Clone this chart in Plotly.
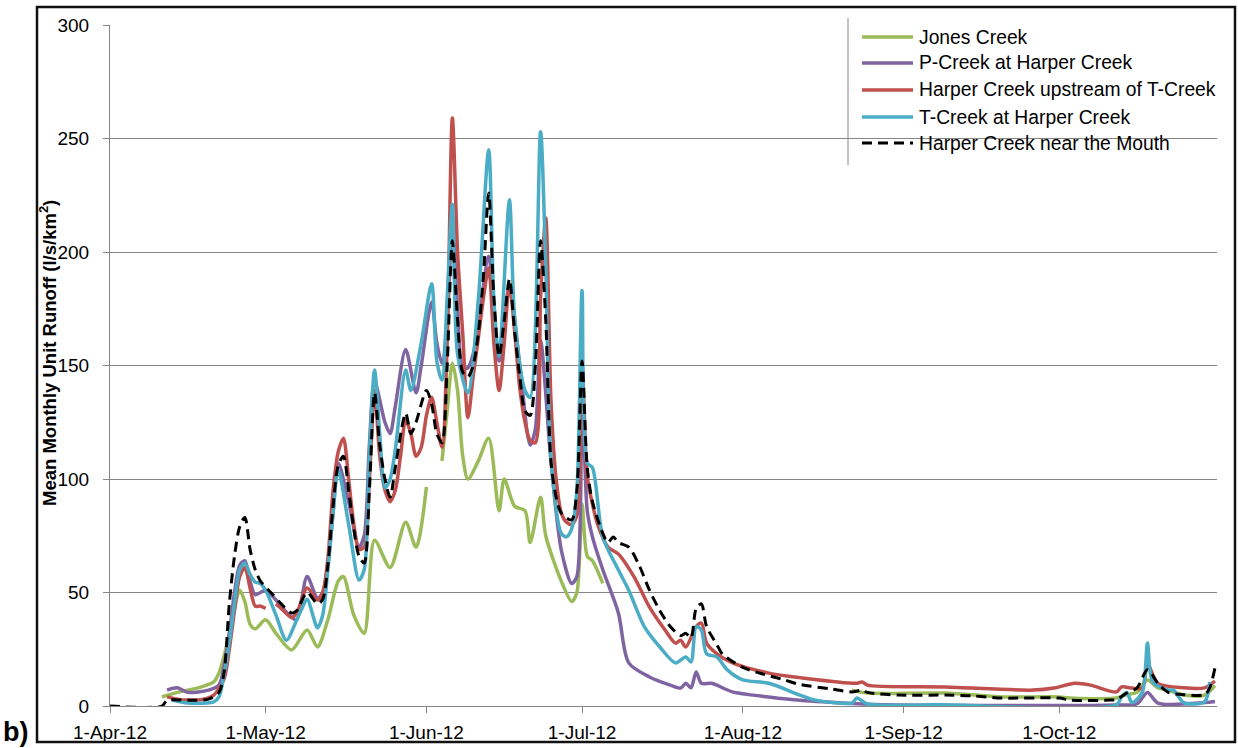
import pandas as pd
import plotly.graph_objects as go

# Daily unit runoff, 2012 freshet. Days are counted from 1-Apr-12.
START = pd.Timestamp("2012-04-01")

jones_day = [10, 13, 17, 20, 21, 22, 23, 24, 25, 26, 27, 28, 30, 32, 35, 38, 40, 42, 44, 45,
             47, 49, 51, 54, 57, 59, 61, 62, 64, 65, 66, 67, 68, 69, 71, 73, 75, 76, 78, 80,
             81, 83, 84, 87, 89, 90, 91, 92, 93, 95, 96, 143, 146, 161, 172, 183, 185, 194,
             196, 198, 200, 202, 204, 207, 211, 213]
jones_val = [4, 6, 8, 10.6, 14.5, 22, 32, 43, 51, 46, 36, 34, 38, 32, 24.7, 33.5, 26, 38, 55, 57,
             40, 32, 73, 61, 81, 70, 96.5, None, 108, 130, 151, 139, 110, 100, 108, 118, 86, 100, 88, 86,
             72, 92, 75, 55, 46, 50, 89, 66, 64, 54, None, 7, 5.7, 5.7, 4, 4, 3.5, 3.5,
             5, 6, 11.5, 8, 7, 4.8, 4.8, 9]

pcreek_day = [11, 13, 15, 19, 21, 22, 23, 24, 25, 26, 27, 28, 30, 32, 35, 36, 38, 40, 41, 42,
              43, 44, 46, 48, 49, 50, 51, 53, 54, 55, 57, 59, 60, 62, 63, 64, 65, 66, 67, 68,
              69, 70, 71, 73, 75, 77, 79, 81, 82, 83, 85, 87, 89, 90, 91, 92, 93, 95, 98, 100,
              104, 108, 110, 111, 112, 113, 114, 116, 120, 127, 133, 144, 150, 194, 198, 200,
              202, 211, 213]
pcreek_val = [7, 8, 6, 7, 9.2, 18, 32, 50, 62, 64, 55, 49, 51, 46.7, 39, 38, 57, 47.5, 50, 62,
              85, 107, 90, 70, 75, 115, 143, 125, 120, 132, 157, 138, 150, 178, 160, 151, 170, 212, 175, 149,
              149, 155, 167, 198, 152, 185, 150, 115, 122, 161, 108, 68.7, 54, 57, 140, 86, 74.5, 60, 41, 19,
              12.8, 9.2, 7.9, 10, 8, 15, 10, 10, 6.2, 4, 2.5, 1, 0.5, 0.4, 1, 6,
              1.3, 1.5, 2]

harper_up_day = [11, 13, 15, 18, 20, 22, 23, 24, 25, 26, 27, 28, 29, 30, 31, 32, 33, 35, 36, 38,
                 40, 41, 42, 43, 44, 45, 46, 47, 48, 49, 50, 51, 52, 53, 54, 55, 56, 57, 58, 59,
                 60, 61, 62, 63, 64, 65, 66, 67, 68, 69, 70, 71, 72, 73, 74, 75, 76, 77, 78, 79,
                 80, 81, 82, 83, 84, 85, 86, 87, 88, 89, 90, 91, 92, 93, 94, 96, 98, 101, 104, 107,
                 109, 110, 111, 113, 114, 115, 117, 120, 127, 133, 144, 145, 146, 161, 178, 182,
                 186, 189, 194, 195, 197, 199, 200, 202, 207, 211, 213]
harper_up_val = [4, 3, 2.6, 3, 4.8, 12, 25, 42, 57, 61, 52, 44, 44, 43, None, 45, 43, 39, 41, 52,
                 46.7, 50, 65, 95, 112, 118, 100, 80, 69, 70, 100, 139, 110, 95, 90, 95, 110, 126, 120, 110,
                 114, 128, 136, 125, 114, 160, 259, 200, 164, 127, 145, 162, 180, 193, 160, 139, 160, 186, 165, 140,
                 125, 117, 116, 180, 215, 135, 100, 85, 81, 80, 84, 150, 101, 89, 80, 70, 67, 57, 43.6, 33.5,
                 27.7, 29, 26, 35, 36.5, 27.7, 23, 19, 14.5, 12.5, 10, 10.6, 9.2, 8.4, 7, 7.9,
                 10, 9.2, 6.2, 8.4, 7.9, 7.9, 18.5, 10, 8, 8, 11]

tcreek_day = [12, 15, 20, 21, 22, 23, 24, 25, 26, 27, 28, 29, 30, 32, 34, 36, 37, 38, 40, 41,
              42, 43, 44, 46, 48, 49, 50, 51, 52, 53, 54, 55, 57, 58, 60, 62, 63, 64, 65, 66,
              67, 69, 71, 73, 74, 75, 77, 78, 80, 81, 83, 84, 85, 87, 88, 89, 90, 91, 92, 93,
              95, 98, 100, 103, 106, 109, 111, 112, 113, 114, 115, 117, 119, 122, 127, 133, 136,
              143, 144, 146, 160, 194, 195, 196, 197, 199, 200, 201, 204, 205, 207, 211, 212]
tcreek_val = [2.6, 1.3, 1.8, 4, 14, 28, 45, 60, 63, 58, 54.6, 54, 51, 40, 29, 38, 43, 47, 34.5, 40,
              60, 85, 104, 80, 55.5, 60, 110, 148, 120, 96, 100, 113, 148, 139, 160, 186, 152, 143.6, 180, 221,
              155, 138, 179, 245, 179, 154, 223, 171, 139, 136, 253, 193, 110, 76, 74.5, 78, 95, 183, 107, 105,
              74.5, 60, 51, 35, 26, 19, 21.6, 19.4, 35, 33.5, 23, 21.6, 15.9, 11.5, 10, 4.8, 2.6,
              1.3, 3.5, 0.9, 0.5, 0.5, 4, 6, 1.5, 6, 27.7, 10.6, 7, 7, 1.5, 1.8, 10.6]

mouth_day = [0, 10, 11, 15, 19, 21, 22, 23, 24, 25, 26, 27, 28, 29, 31, 33, 35, 36, 38, 40,
             41, 42, 43, 44, 45, 46, 47, 48, 49, 50, 51, 52, 53, 54, 55, 57, 58, 59, 61, 62,
             63, 64, 65, 66, 67, 68, 69, 70, 71, 72, 73, 74, 75, 76, 77, 78, 79, 80, 81, 82,
             83, 84, 85, 86, 87, 89, 90, 91, 92, 93, 95, 96, 97, 98, 100, 102, 104, 106, 108,
             110, 111, 112, 113, 114, 115, 117, 118, 122, 126, 130, 133, 139, 143, 145, 146,
             152, 161, 166, 172, 183, 185, 193, 194, 196, 198, 200, 202, 204, 207, 211, 212, 213]
mouth_val = [0, 0, 2.5, 2.5, 3, 6, 15, 45, 66, 79, 83, 69, 60, 55, 50, 45, 41, 42, 50, 45,
             47, 62, 88, 106, 110, 95, 78, 66, 63, 95, 138, 115, 100, 92, 105, 129, 120, 125, 139, 133,
             120, 116, 150, 205, 170, 147, 145, 150, 164, 190, 226, 180, 154, 170, 188, 165, 145, 130, 128, 150,
             205, 170, 108, 92, 85, 82, 95, 152, 105, 90, 76, 72, 74.5, 72, 70, 62, 51, 42, 35,
             31, 32, 30, 43, 45, 35, 27, 23, 17, 14, 11.5, 9.5, 7.5, 6.2, 7, 6,
             4.8, 4.8, 4.5, 3.5, 3.5, 2.6, 2.6, 2.8, 5.7, 8, 16, 10, 6, 5, 5, 8, 16.7]

series = [
    ("Jones Creek", jones_day, jones_val, "#9BBB59", "solid", 3.5),
    ("P-Creek at Harper Creek", pcreek_day, pcreek_val, "#8064A2", "solid", 3.5),
    ("Harper Creek upstream of T-Creek", harper_up_day, harper_up_val, "#C0504D", "solid", 3.5),
    ("T-Creek at Harper Creek", tcreek_day, tcreek_val, "#4BACC6", "solid", 3.5),
    ("Harper Creek near the Mouth", mouth_day, mouth_val, "#000000", "10px,6px", 3),
]

y_ticks = [0, 50, 100, 150, 200, 250, 300]
x_tick_dates = ["2012-04-01", "2012-05-01", "2012-06-01", "2012-07-01",
                "2012-08-01", "2012-09-01", "2012-10-01"]
x_tick_labels = ["1-Apr-12", "1-May-12", "1-Jun-12", "1-Jul-12",
                 "1-Aug-12", "1-Sep-12", "1-Oct-12"]

W, H = 1238, 748
ML, MR, MT, MB = 110, 21, 25, 42
PW, PH = W - ML - MR, H - MT - MB


def px(x):
    return (x - ML) / PW


def py(y):
    return (H - MB - y) / PH


FONT = "Liberation Sans, Arial, sans-serif"

fig = go.Figure()
for name, days, vals, color, dash, width in series:
    fig.add_trace(go.Scatter(
        x=[START + pd.Timedelta(days=d) for d in days],
        y=vals,
        name=name,
        mode="lines",
        line=dict(color=color, width=width, dash=dash, shape="spline", smoothing=0.8),
        connectgaps=False,
        showlegend=False,
    ))

shapes = []
annotations = []

# outer chart frame
shapes.append(dict(type="rect", xref="paper", yref="paper",
                   x0=px(37), x1=px(1235), y0=py(742), y1=py(7),
                   line=dict(color="#111111", width=2.5), layer="above"))

# legend panel
legend_left = 848
shapes.append(dict(type="rect", xref="paper", yref="paper",
                   x0=px(legend_left), x1=px(1233), y0=py(165), y1=py(18),
                   fillcolor="white", line=dict(width=0), layer="below"))
shapes.append(dict(type="line", xref="paper", yref="paper",
                   x0=px(legend_left), x1=px(legend_left), y0=py(165), y1=py(18),
                   line=dict(color="#868686", width=1)))
row_y = [37, 63, 90, 117, 143]
for (name, _, _, color, dash, width), ry in zip(series, row_y):
    shapes.append(dict(type="line", xref="paper", yref="paper",
                       x0=px(862), x1=px(913), y0=py(ry), y1=py(ry),
                       line=dict(color=color, width=width, dash=dash)))
    annotations.append(dict(text=name, xref="paper", yref="paper",
                            x=px(917), y=py(ry), xanchor="left", yanchor="middle",
                            showarrow=False, font=dict(family=FONT, size=19.3, color="#000000")))

annotations.append(dict(text="<b>Mean Monthly Unit Runoff (l/s/km<sup>2</sup>)</b>",
                        xref="paper", yref="paper", x=px(48), y=py(353),
                        xanchor="center", yanchor="middle", textangle=-90, showarrow=False,
                        font=dict(family=FONT, size=18.5, color="#000000")))
annotations.append(dict(text="<b>b)</b>", xref="paper", yref="paper",
                        x=px(1), y=py(749), xanchor="left", yanchor="bottom",
                        showarrow=False, font=dict(family=FONT, size=27, color="#000000")))

fig.update_layout(
    width=W, height=H,
    margin=dict(l=ML, r=MR, t=MT, b=MB, pad=0, autoexpand=False),
    paper_bgcolor="white", plot_bgcolor="white",
    shapes=shapes, annotations=annotations,
    showlegend=False,
    font=dict(family=FONT, size=19, color="#000000"),
)
fig.update_xaxes(
    type="date", automargin=False,
    range=[START, pd.Timestamp("2012-10-31 09:36")],
    tickvals=x_tick_dates, ticktext=x_tick_labels,
    ticks="outside", ticklen=6, tickcolor="#868686", tickwidth=1,
    showline=True, linecolor="#868686", linewidth=1,
    showgrid=False, zeroline=False,
    ticklabelstandoff=3,
    tickfont=dict(family=FONT, size=19, color="#000000"),
)
fig.update_yaxes(
    range=[0, 300], tickvals=y_ticks, automargin=False,
    ticks="outside", ticklen=6, tickcolor="#868686", tickwidth=1,
    showline=True, linecolor="#868686", linewidth=1,
    showgrid=True, gridcolor="#868686", gridwidth=1, zeroline=False,
    ticklabelstandoff=10,
    tickfont=dict(family=FONT, size=19, color="#000000"),
)

fig.write_html("out.html")
